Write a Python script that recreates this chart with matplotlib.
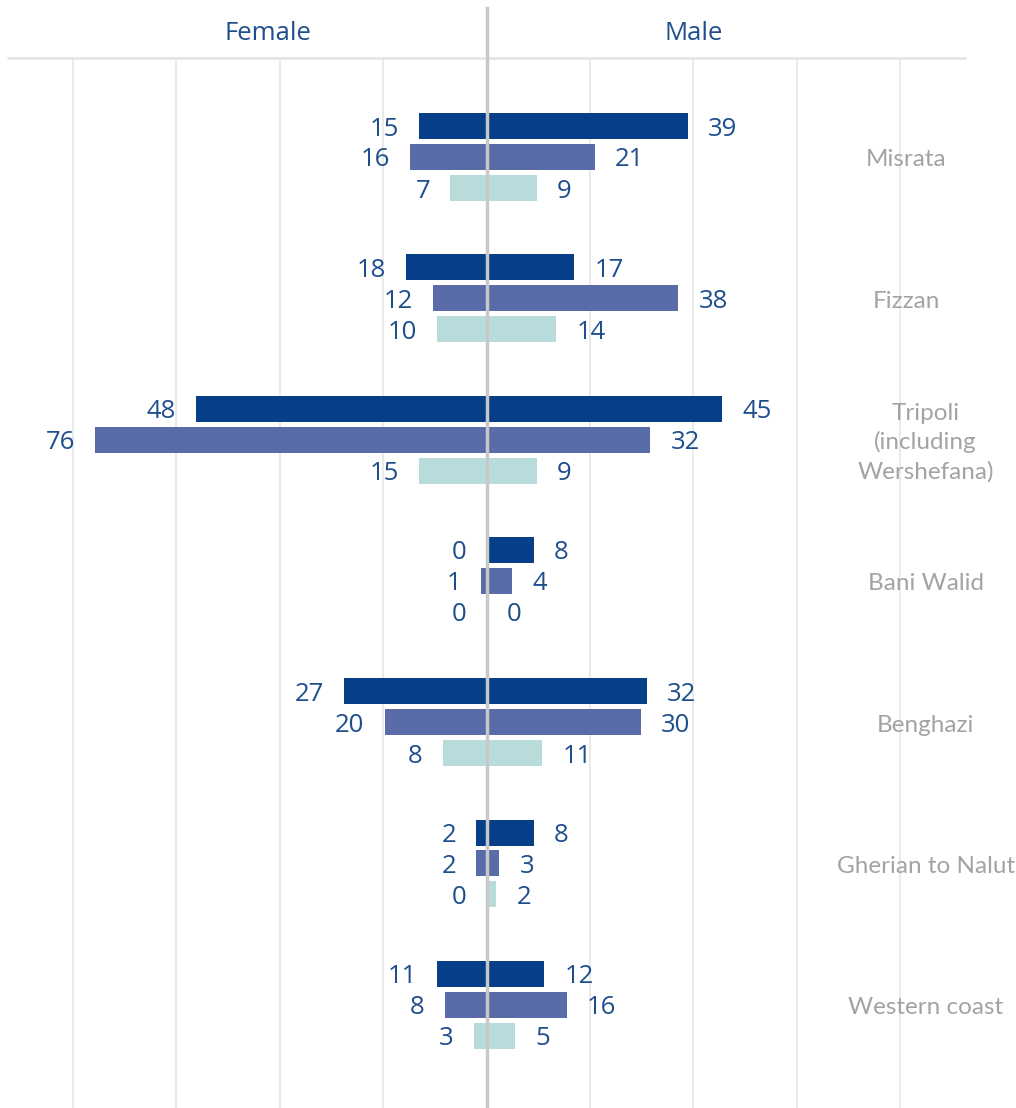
import matplotlib.pyplot as plt
import numpy as np

# regions, top to bottom
regions = ["Misrata", "Fizzan", "Tripoli\n(including\nWershefana)", "Bani Walid",
           "Benghazi", "Gherian to Nalut", "Western coast"]

# printed values, three series per region (dark, mid, light)
female_lbl = [[15, 16, 7], [18, 12, 10], [48, 76, 15], [0, 1, 0],
              [27, 20, 8], [2, 2, 0], [11, 8, 3]]
male_lbl = [[39, 21, 9], [17, 38, 14], [45, 32, 9], [8, 4, 0],
            [32, 30, 11], [8, 3, 2], [12, 16, 5]]

# bar lengths as drawn in the picture
female_len = [[13.0, 14.7, 7.0], [15.5, 10.3, 9.5], [56.1, 75.6, 13.0], [0, 1.0, 0],
              [27.5, 19.7, 8.5], [2.0, 2.0, 0], [9.5, 8.0, 2.5]]
male_len = [[38.9, 20.9, 9.7], [17.0, 37.1, 13.5], [45.6, 31.7, 9.7], [9.1, 5.0, 0],
            [31.0, 29.8, 10.8], [9.1, 2.5, 1.9], [11.2, 15.5, 5.6]]

colors = ["#063f88", "#5a6ca8", "#b8dcdc"]
label_color = "#1f4e8d"
grey_text = "#a3a3a3"

fig = plt.figure(figsize=(10.16, 11.08), dpi=100)
ax = fig.add_axes([8 / 1016, 0, (965 - 8) / 1016, (1108 - 58) / 1108])

step = 31 / 141.3
height = 26 / 141.3
for i, region in enumerate(regions):
    for j in range(3):
        y = i + (j - 1) * step
        fl, ml = female_len[i][j], male_len[i][j]
        ax.barh(y, -fl, height=height, color=colors[j], zorder=2)
        ax.barh(y, ml, height=height, color=colors[j], zorder=2)
        ax.annotate(str(female_lbl[i][j]), (-fl, y), xytext=(-14.5, 0),
                    textcoords="offset points", ha="right", va="center_baseline",
                    fontsize=18.5, color=label_color, family="Open Sans")
        ax.annotate(str(male_lbl[i][j]), (ml, y), xytext=(14.5, 0),
                    textcoords="offset points", ha="left", va="center_baseline",
                    fontsize=18.5, color=label_color, family="Open Sans")
    xc = 81.2 if i < 2 else 84.9
    ax.text(xc, i + 0.02, region, ha="center", va="center", fontsize=17.5,
            color=grey_text, family="Lato", linespacing=1.42)

for g in [-80, -60, -40, -20, 20, 40, 60, 80]:
    ax.axvline(g, color="#e6e6e6", lw=1.2, zorder=0)

ax.set_xlim(-92.5, 92.5)
ax.set_ylim(951 / 141.3, -99 / 141.3)
ax.axis("off")

# header strip
fig.add_artist(plt.Line2D([8 / 1016, 965 / 1016], [1 - 58 / 1108] * 2,
                          color="#e3e3e3", lw=1.8))
fig.add_artist(plt.Line2D([487 / 1016] * 2, [1 - 8 / 1108, 0],
                          color="#c8c8c8", lw=2.5, zorder=5))
fig.text(268 / 1016, 1 - 31 / 1108, "Female", ha="center", va="center_baseline",
         fontsize=18.5, color=label_color, family="Open Sans")
fig.text(694 / 1016, 1 - 31 / 1108, "Male", ha="center", va="center_baseline",
         fontsize=18.5, color=label_color, family="Open Sans")

fig.savefig("out.png", dpi=100)
